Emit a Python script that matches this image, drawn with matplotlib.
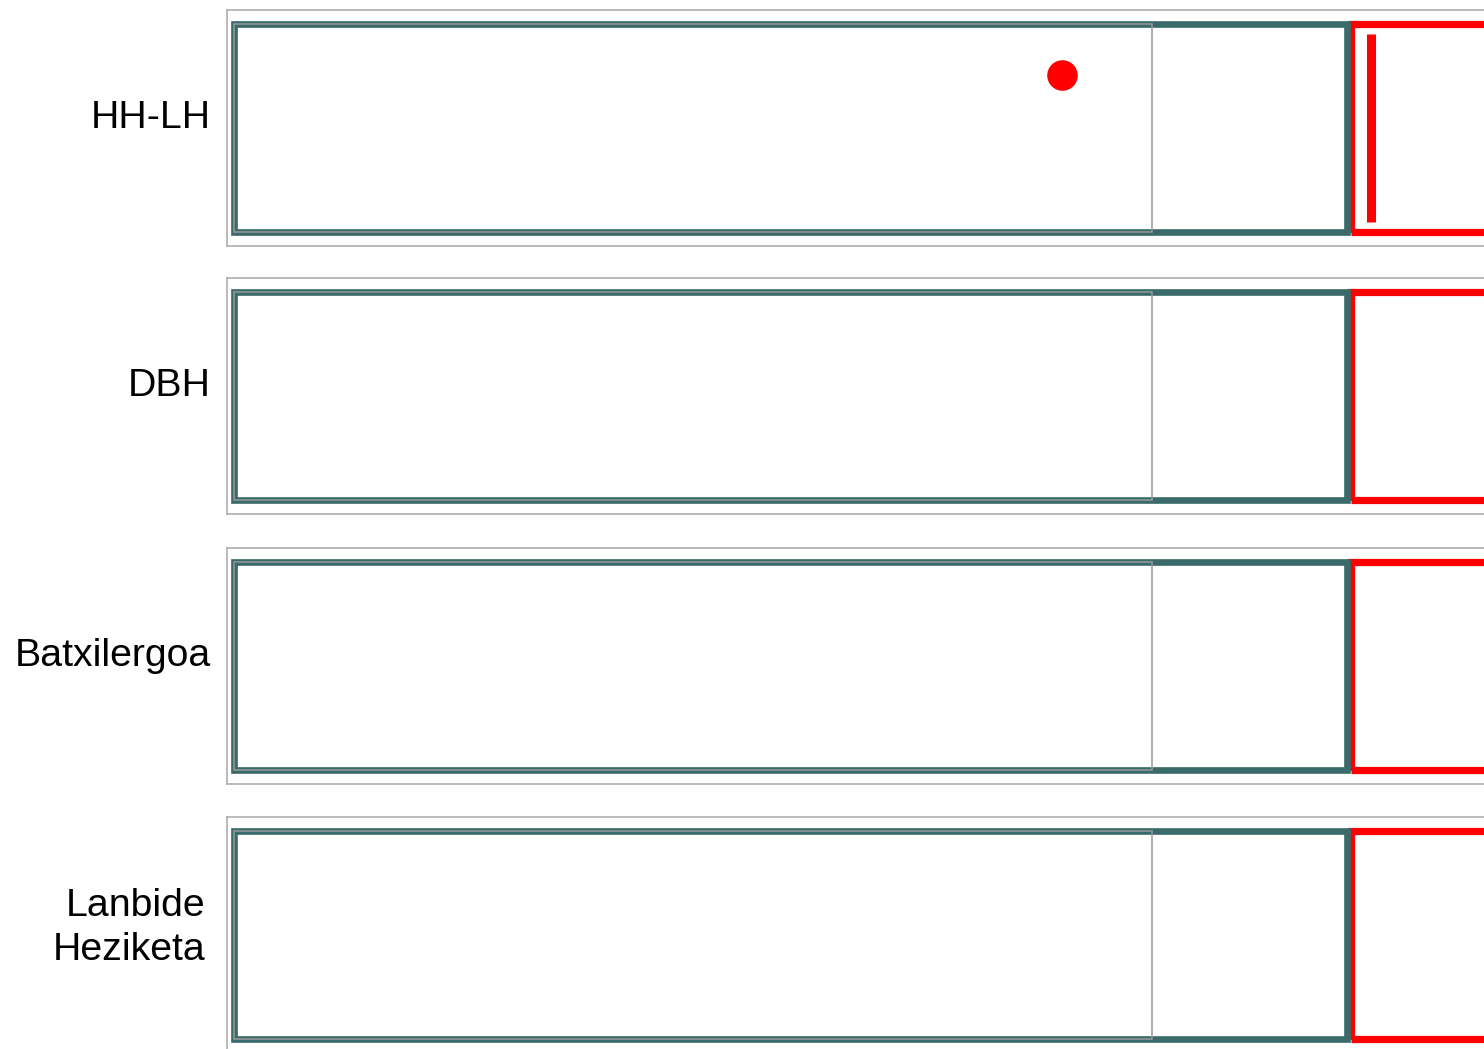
import matplotlib.pyplot as plt

plt.rcParams['font.family'] = ['Liberation Sans', 'DejaVu Sans']

# bullet rows, top to bottom
categories = ["HH-LH", "DBH", "Batxilergoa", "Lanbide\nHeziketa"]
grey_band = [61.2, 61.2, 61.2, 61.2]      # inner grey range
teal_band = [74.2, 74.2, 74.2, 74.2]      # teal outlined range
red_start = [74.5, 74.5, 74.5, 74.5]      # red range starts here
red_end = [100, 100, 100, 100]
target = [75.8, None, None, None]          # red vertical marker
point = [55.2, None, None, None]           # red dot
point_y = [0.725, None, None, None]

teal = '#3a6b6a'
red = '#ff0000'

W, H = 1484, 1049
fig = plt.figure(figsize=(W / 100, H / 100), dpi=100)

ax_left = 227
ax_width = 1500
ax_h = 236
tops = [10, 278, 548, 817]
label_right = [211, 211, 211, 205]
label_y = [0.543, 0.543, 0.543, 0.53]

for i, cat in enumerate(categories):
    bottom = H - (tops[i] + ax_h)
    ax = fig.add_axes([ax_left / W, bottom / H, ax_width / W, ax_h / H])
    ax.set_xlim(-0.45, 99.55)
    ax.set_ylim(0, 1)

    ax.barh(0.5, red_end[i] - red_start[i], left=red_start[i], height=0.885,
            fill=False, edgecolor=red, linewidth=5.2, zorder=2)
    ax.barh(0.5, teal_band[i], left=0, height=0.885,
            fill=False, edgecolor=teal, linewidth=4.8, zorder=3)
    ax.barh(0.5, grey_band[i], left=0, height=0.883,
            fill=False, edgecolor='#999999', linewidth=1.1, zorder=4)

    if target[i] is not None:
        ax.plot([target[i], target[i]], [0.1, 0.9], color=red,
                linewidth=6.5, solid_capstyle='butt', zorder=5)
    if point[i] is not None:
        ax.plot(point[i], point_y[i], 'o', color=red, markersize=22,
                markeredgewidth=0, zorder=6)

    ax.set_xticks([])
    ax.set_yticks([])
    for s in ax.spines.values():
        s.set_color('#a8a8a8')
        s.set_linewidth(1.1)

    ax.text((label_right[i] - ax_left) / ax_width, label_y[i], cat,
            transform=ax.transAxes, ha='right', va='center',
            fontsize=28.3, color='black', linespacing=1.27)

fig.savefig('out.png', dpi=100)
